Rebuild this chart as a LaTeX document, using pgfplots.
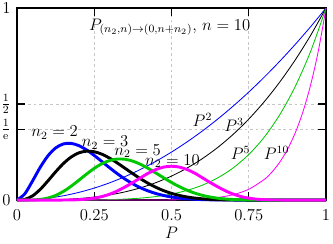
\documentclass[border=0pt]{standalone}
\usepackage{pgfplots}
\pgfplotsset{compat=1.18}
\definecolor{cblue}{RGB}{0,0,255}
\definecolor{cgreen}{RGB}{0,200,0}
\definecolor{cmag}{RGB}{255,0,255}
\begin{document}
\fontsize{12}{14.4}\selectfont
\begin{tikzpicture}[font=\fontsize{12}{14.4}\selectfont]
\begin{axis}[
  scale only axis, width=222.7pt, height=138.4pt,
  xmin=0, xmax=1, ymin=0, ymax=1,
  xtick={0,0.25,0.5,0.75,1},
  xticklabels={$0$,$0.25$,$0.5$,$0.75$,$1$},
  ytick={0,0.367879,0.5,1},
  yticklabels={$0$,$\frac{1}{\mathrm{e}}$,$\frac{1}{2}$,$1$},
  tick align=inside, tick pos=both, major tick length=6pt,
  every tick/.style={black, line width=0.8pt},
  axis line style={line width=1pt},
  grid=major,
  grid style={gray!45, dash pattern=on 2pt off 2pt, line width=0.5pt},
  tick label style={font=\fontsize{12}{14.4}\selectfont},
  label style={font=\fontsize{12}{14.4}\selectfont},
  xticklabel style={yshift=-3pt},
  yticklabel style={xshift=-0.5pt},
  xlabel={$P$},
  xlabel style={at={(axis description cs:0.5,-0.169)}, anchor=center},
  clip=false,
]
% thin curves P^k
\addplot[cblue, line width=0.6pt, smooth] coordinates {(0,0) (0.05,0.0025) (0.1,0.01) (0.15,0.0225) (0.2,0.04) (0.25,0.0625) (0.3,0.09) (0.35,0.1225) (0.4,0.16) (0.45,0.2025) (0.5,0.25) (0.55,0.3025) (0.6,0.36) (0.65,0.4225) (0.7,0.49) (0.75,0.5625) (0.8,0.64) (0.85,0.7225) (0.9,0.81) (0.95,0.9025) (1,1)};
\addplot[black, line width=0.6pt, smooth] coordinates {(0,0) (0.05,0.000125) (0.1,0.001) (0.15,0.003375) (0.2,0.008) (0.25,0.015625) (0.3,0.027) (0.35,0.042875) (0.4,0.064) (0.45,0.091125) (0.5,0.125) (0.55,0.166375) (0.6,0.216) (0.65,0.274625) (0.7,0.343) (0.75,0.421875) (0.8,0.512) (0.85,0.614125) (0.9,0.729) (0.95,0.857375) (1,1)};
\addplot[cgreen, line width=0.6pt, smooth] coordinates {(0,0) (0.1,0.00001) (0.15,0.000076) (0.2,0.00032) (0.25,0.000977) (0.3,0.00243) (0.35,0.005252) (0.4,0.01024) (0.45,0.018453) (0.5,0.03125) (0.55,0.050328) (0.6,0.07776) (0.65,0.116029) (0.7,0.16807) (0.75,0.237305) (0.8,0.32768) (0.85,0.443705) (0.9,0.59049) (0.95,0.773781) (1,1)};
\addplot[cmag, line width=0.6pt, smooth] coordinates {(0,0) (0.3,0.000006) (0.4,0.000105) (0.5,0.000977) (0.55,0.002533) (0.6,0.006047) (0.65,0.013463) (0.7,0.028248) (0.75,0.056314) (0.8,0.107374) (0.825,0.14606) (0.85,0.196874) (0.875,0.26308) (0.9,0.348678) (0.925,0.45858) (0.95,0.59874) (0.975,0.7763) (1,1)};
% thick curves
\addplot[cblue, line width=2.1pt, smooth] coordinates {(0,0) (0.025,0.03202) (0.05,0.09879) (0.075,0.17025) (0.1,0.23013) (0.125,0.27130) (0.15,0.29235) (0.175,0.29522) (0.2,0.28347) (0.225,0.26117) (0.25,0.23230) (0.275,0.20025) (0.3,0.16779) (0.325,0.13688) (0.35,0.10885) (0.375,0.08441) (0.4,0.06385) (0.425,0.04710) (0.45,0.03385) (0.475,0.02369) (0.5,0.01611) (0.525,0.01064) (0.55,0.00680) (0.575,0.00420) (0.6,0.00249) (0.625,0.00142) (0.65,0.00077) (0.7,0.00019) (0.75,0.00004) (0.8,0) (0.9,0) (1,0)};
\addplot[black, line width=2.1pt, smooth] coordinates {(0,0) (0.025,0.00347) (0.05,0.02140) (0.075,0.05533) (0.1,0.09972) (0.125,0.14695) (0.15,0.19003) (0.175,0.22387) (0.2,0.24567) (0.225,0.25464) (0.25,0.25165) (0.275,0.23864) (0.3,0.21813) (0.325,0.19277) (0.35,0.16509) (0.375,0.13717) (0.4,0.11068) (0.425,0.08674) (0.45,0.06601) (0.475,0.04876) (0.5,0.03491) (0.525,0.02420) (0.55,0.01620) (0.575,0.01045) (0.6,0.00648) (0.625,0.00384) (0.65,0.00217) (0.675,0.00116) (0.7,0.00058) (0.75,0.00012) (0.8,0.00002) (0.9,0) (1,0)};
\addplot[cgreen, line width=2.1pt, smooth] coordinates {(0,0) (0.025,0.00002) (0.05,0.00056) (0.075,0.00327) (0.1,0.01047) (0.125,0.02411) (0.15,0.04490) (0.175,0.07199) (0.2,0.10318) (0.225,0.13536) (0.25,0.16515) (0.275,0.18950) (0.3,0.20613) (0.325,0.21380) (0.35,0.21235) (0.375,0.20254) (0.4,0.18594) (0.425,0.16451) (0.45,0.14036) (0.475,0.11552) (0.5,0.09164) (0.525,0.07003) (0.55,0.05146) (0.575,0.03629) (0.6,0.02449) (0.625,0.01575) (0.65,0.00961) (0.675,0.00555) (0.7,0.00298) (0.725,0.00149) (0.75,0.00068) (0.8,0.00010) (0.85,0.00001) (0.9,0) (1,0)};
\addplot[cmag, line width=2.1pt, smooth] coordinates {(0,0) (0.1,0.00001) (0.15,0.00021) (0.175,0.00073) (0.2,0.00203) (0.225,0.00480) (0.25,0.00992) (0.275,0.01833) (0.3,0.03082) (0.325,0.04769) (0.35,0.06861) (0.375,0.09146) (0.4,0.11594) (0.425,0.14034) (0.45,0.15935) (0.475,0.17184) (0.5,0.17620) (0.525,0.17184) (0.55,0.15935) (0.575,0.14034) (0.6,0.11594) (0.625,0.09146) (0.65,0.06861) (0.675,0.04769) (0.7,0.03082) (0.725,0.01833) (0.75,0.00992) (0.775,0.00480) (0.8,0.00203) (0.825,0.00073) (0.85,0.00021) (0.9,0.00001) (1,0)};
% labels
\node at (axis cs:0.494,0.90) {$P_{(n_2,n)\to(0,n+n_2)}$, $n=10$};
\node at (axis cs:0.122,0.35) {$n_2=2$};
\node at (axis cs:0.285,0.30) {$n_2=3$};
\node at (axis cs:0.39,0.255) {$n_2=5$};
\node at (axis cs:0.503,0.203) {$n_2=10$};
\node at (axis cs:0.60,0.417) {$P^2$};
\node at (axis cs:0.702,0.393) {$P^3$};
\node at (axis cs:0.723,0.247) {$P^5$};
\node at (axis cs:0.84,0.247) {$P^{10}$};
\coordinate (bl) at (axis description cs:-0.055,-0.224);
\coordinate (tr) at (axis description cs:1.0225,1.0417);
\end{axis}
\pgfresetboundingbox
\path (bl) rectangle (tr);
\end{tikzpicture}
\end{document}
